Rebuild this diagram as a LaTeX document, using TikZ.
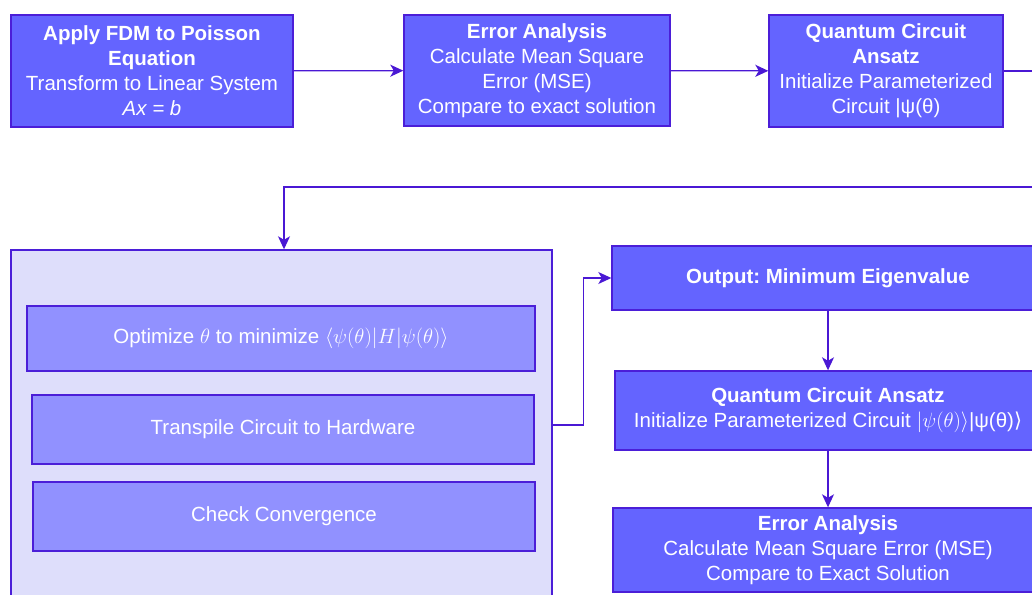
\documentclass[tikz,border=0pt]{standalone}
\usepackage{fontspec}
\setmainfont{Liberation Sans}
\newfontfamily\dvsfont{DejaVu Sans}
\usepackage{tikz}
\usetikzlibrary{positioning,calc,arrows.meta}
\frenchspacing

\definecolor{boxfill}{HTML}{6464FF}
\definecolor{boxline}{HTML}{4B1ED8}
\definecolor{subfill}{HTML}{9191FF}
\definecolor{panelfill}{HTML}{DEDEFB}
\definecolor{flowline}{HTML}{4A18D4}

\begin{document}
\begin{tikzpicture}[x=1pt,y=-1pt,
    every node/.style={font=\fontsize{20.5}{25}\selectfont, align=center, inner sep=0pt},
    box/.style={draw=boxline, fill=boxfill, line width=1.4pt, text=white},
    subbox/.style={draw=boxline, fill=subfill, line width=1.4pt, text=white},
    panel/.style={draw=boxline, fill=panelfill, line width=1.4pt},
    flow/.style={draw=flowline, line width=1.3pt, -{Stealth[length=13pt,width=12pt,inset=3.5pt]}}]
    \useasboundingbox (0,0) rectangle (1032,594);
    \clip (0,0) rectangle (1032,594);

    % Top row
    \node [box, minimum width=282pt, minimum height=112pt] (fdm) at (152,71)
        {\textbf{Apply FDM to Poisson}\\\textbf{Equation}\\Transform to Linear System\\\textit{Ax = b}};
    \node [box, minimum width=266pt, minimum height=111pt] (err) at (537,70.5)
        {\textbf{Error Analysis}\\Calculate Mean Square\\Error (MSE)\\Compare to exact solution};
    \node [box, minimum width=234pt, minimum height=112pt] (ansatz) at (886,71)
        {\textbf{Quantum Circuit}\\\textbf{Ansatz}\\Initialize Parameterized\\Circuit |ψ(θ)};
    \coordinate (topR) at (1040,71);

    \draw [flow] (fdm) -- (err);
    \draw [flow] (err) -- (ansatz);
    \draw [flowline, line width=1.3pt] (ansatz) -- (topR);

    % Optimisation loop
    \node [panel, minimum width=541pt, minimum height=350pt] (loop) at (281.5,425) {};
    \node [subbox, minimum width=508pt, minimum height=65pt] (opt) at (281,338.5)
        {Optimize $\theta$ to minimize $\langle\psi(\theta)|H|\psi(\theta)\rangle$};
    \node [subbox, minimum width=502pt, minimum height=69pt] (trans) at (283,429.5)
        {Transpile Circuit to Hardware};
    \node [subbox, minimum width=502pt, minimum height=69pt] (conv) at (284,516.5)
        {Check Convergence};

    \coordinate (backR) at (1040,187);
    \draw [flow] (backR) -| ($(loop.north)+(2.5,0)$);

    % Right column
    \node [box, minimum width=432pt, minimum height=64pt] (out) at (828,278)
        {\textbf{Output: Minimum Eigenvalue}};
    \node [box, minimum width=426pt, minimum height=79pt] (qca) at (828,410.5)
        {\textbf{Quantum Circuit Ansatz}\\Initialize Parameterized Circuit $|\psi(\theta)\rangle$|ψ(θ){\dvsfont ⟩}};
    \node [box, minimum width=430pt, minimum height=84pt] (erra) at (828,550)
        {\textbf{Error Analysis}\\Calculate Mean Square Error (MSE)\\Compare to Exact Solution};

    \draw [flow] (loop.east) -- ++(31,0) |- (out.west);
    \draw [flow] (out) -- (qca);
    \draw [flow] (qca) -- (erra);
\end{tikzpicture}
\end{document}
